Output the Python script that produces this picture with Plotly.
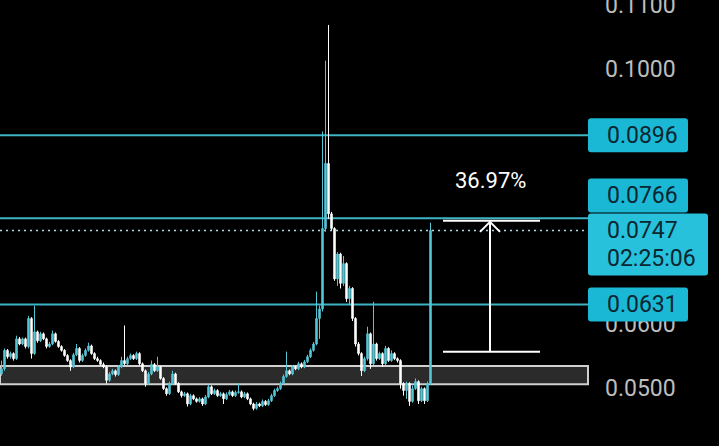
import plotly.graph_objects as go

W, H = 719, 446
PLOT_RIGHT_PX = 588

# ---- candle data (price) ----
close_ = [0.0530,0.0559,0.0549,0.0554,0.0546,0.0577,0.0569,0.0577,0.0565,0.0609,
          0.0554,0.0588,0.0574,0.0585,0.0577,0.0565,0.0569,0.0585,0.0573,0.0565,
          0.0559,0.0551,0.0543,0.0533,0.0552,0.0562,0.0543,0.0551,0.0559,0.0566,
          0.0554,0.0546,0.0543,0.0537,0.0533,0.0512,0.0522,0.0527,0.0521,0.0533,
          0.0543,0.0538,0.0546,0.0551,0.0546,0.0554,0.0538,0.0527,0.0507,0.0522,
          0.0537,0.0527,0.0533,0.0515,0.0499,0.0491,0.0507,0.0522,0.0507,0.0494,
          0.0488,0.0491,0.0475,0.0488,0.0483,0.0479,0.0483,0.0475,0.0486,0.0502,
          0.0491,0.0496,0.0488,0.0491,0.0483,0.0490,0.0494,0.0488,0.0493,0.0494,
          0.0486,0.0491,0.0483,0.0475,0.0468,0.0475,0.0472,0.0479,0.0474,0.0480,
          0.0488,0.0496,0.0499,0.0507,0.0518,0.0527,0.0522,0.0533,0.0530,0.0538,
          0.0533,0.0541,0.0549,0.0559,0.0569,0.0609,0.0624,0.0750,0.0852,0.0773,
          0.0750,0.0671,0.0710,0.0664,0.0695,0.0640,0.0656,0.0609,0.0569,0.0554,
          0.0527,0.0546,0.0585,0.0538,0.0569,0.0546,0.0554,0.0538,0.0562,0.0543,
          0.0554,0.0546,0.0543,0.0507,0.0496,0.0507,0.0479,0.0499,0.0510,0.0480,
          0.0499,0.0480,0.0507,0.0747]

open_ = [0.0522,0.0530,0.0559,0.0549,0.0554,0.0546,0.0577,0.0569,0.0577,0.0565,
         0.0609,0.0554,0.0588,0.0574,0.0585,0.0577,0.0565,0.0569,0.0585,0.0573,
         0.0565,0.0559,0.0551,0.0543,0.0533,0.0552,0.0562,0.0543,0.0551,0.0559,
         0.0566,0.0554,0.0546,0.0543,0.0537,0.0533,0.0512,0.0522,0.0527,0.0521,
         0.0533,0.0543,0.0538,0.0546,0.0551,0.0546,0.0554,0.0538,0.0527,0.0507,
         0.0522,0.0537,0.0527,0.0533,0.0515,0.0499,0.0491,0.0507,0.0522,0.0507,
         0.0494,0.0488,0.0491,0.0475,0.0488,0.0483,0.0479,0.0483,0.0475,0.0486,
         0.0502,0.0491,0.0496,0.0488,0.0491,0.0483,0.0490,0.0494,0.0488,0.0493,
         0.0494,0.0486,0.0491,0.0483,0.0475,0.0468,0.0475,0.0472,0.0479,0.0474,
         0.0480,0.0488,0.0496,0.0499,0.0507,0.0518,0.0527,0.0522,0.0533,0.0530,
         0.0538,0.0533,0.0541,0.0549,0.0559,0.0569,0.0609,0.0624,0.0750,0.0852,
         0.0773,0.0750,0.0671,0.0710,0.0664,0.0695,0.0640,0.0656,0.0609,0.0569,
         0.0554,0.0527,0.0546,0.0585,0.0538,0.0569,0.0546,0.0554,0.0538,0.0562,
         0.0543,0.0554,0.0546,0.0543,0.0507,0.0496,0.0507,0.0479,0.0499,0.0510,
         0.0480,0.0499,0.0480,0.0507]

high_ = [0.0543,0.0562,0.0561,0.0557,0.0556,0.0582,0.0580,0.0579,0.0579,0.0613,
         0.0611,0.0629,0.0590,0.0588,0.0587,0.0579,0.0572,0.0590,0.0587,0.0575,
         0.0567,0.0561,0.0553,0.0545,0.0555,0.0569,0.0564,0.0554,0.0562,0.0571,
         0.0568,0.0556,0.0549,0.0545,0.0540,0.0535,0.0525,0.0530,0.0529,0.0536,
         0.0549,0.0598,0.0549,0.0554,0.0553,0.0557,0.0556,0.0540,0.0529,0.0525,
         0.0543,0.0539,0.0549,0.0535,0.0517,0.0501,0.0510,0.0527,0.0524,0.0509,
         0.0496,0.0494,0.0493,0.0491,0.0490,0.0485,0.0486,0.0485,0.0489,0.0505,
         0.0504,0.0499,0.0498,0.0494,0.0493,0.0493,0.0497,0.0496,0.0496,0.0507,
         0.0496,0.0494,0.0493,0.0485,0.0477,0.0478,0.0477,0.0482,0.0481,0.0483,
         0.0491,0.0499,0.0502,0.0510,0.0521,0.0557,0.0529,0.0536,0.0535,0.0541,
         0.0540,0.0544,0.0552,0.0562,0.0572,0.0651,0.0629,0.0902,0.1013,0.1069,
         0.0776,0.0752,0.0713,0.0712,0.0707,0.0697,0.0660,0.0658,0.0611,0.0572,
         0.0556,0.0549,0.0596,0.0587,0.0635,0.0571,0.0557,0.0556,0.0566,0.0564,
         0.0559,0.0556,0.0548,0.0545,0.0509,0.0510,0.0509,0.0504,0.0515,0.0512,
         0.0502,0.0501,0.0510,0.0759]

low_ = [0.0519,0.0527,0.0546,0.0546,0.0543,0.0544,0.0567,0.0567,0.0562,0.0562,
        0.0546,0.0552,0.0571,0.0572,0.0575,0.0562,0.0563,0.0567,0.0571,0.0563,
        0.0557,0.0549,0.0541,0.0527,0.0531,0.0550,0.0540,0.0541,0.0549,0.0557,
        0.0552,0.0544,0.0541,0.0535,0.0531,0.0507,0.0510,0.0520,0.0518,0.0519,
        0.0531,0.0536,0.0536,0.0544,0.0544,0.0544,0.0536,0.0525,0.0502,0.0505,
        0.0520,0.0525,0.0525,0.0513,0.0497,0.0488,0.0489,0.0505,0.0505,0.0492,
        0.0485,0.0486,0.0471,0.0473,0.0481,0.0477,0.0477,0.0472,0.0473,0.0484,
        0.0489,0.0489,0.0486,0.0486,0.0475,0.0481,0.0488,0.0486,0.0486,0.0491,
        0.0484,0.0484,0.0481,0.0473,0.0465,0.0466,0.0470,0.0470,0.0472,0.0472,
        0.0478,0.0486,0.0494,0.0497,0.0505,0.0516,0.0520,0.0520,0.0528,0.0528,
        0.0531,0.0531,0.0539,0.0547,0.0557,0.0567,0.0577,0.0620,0.0745,0.0765,
        0.0747,0.0668,0.0660,0.0656,0.0660,0.0635,0.0630,0.0605,0.0565,0.0551,
        0.0519,0.0525,0.0543,0.0530,0.0536,0.0543,0.0544,0.0533,0.0536,0.0541,
        0.0541,0.0544,0.0540,0.0499,0.0488,0.0483,0.0472,0.0477,0.0497,0.0475,
        0.0478,0.0475,0.0478,0.0505]

# ---- levels / annotations data ----
levels = [0.0896, 0.0766, 0.0631]
level_labels = ["0.0896", "0.0766", "0.0631"]
current_price = 0.0747
current_label = "0.0747"
countdown = "02:25:06"
band_low, band_high = 0.0506, 0.05345
measure_low, measure_high = 0.0557, 0.0762
measure_text = "36.97%"
tick_vals = [0.04, 0.05, 0.06, 0.07, 0.08, 0.09, 0.10, 0.11]
tick_text = ["0.0400", "0.0500", "0.0600", "0.0700", "0.0800", "0.0900", "0.1000", "0.1100"]

Y_MIN, Y_MAX = 0.040909, 0.110815
N_SLOTS = 196  # candle slots across the plot width

CYAN_LINE = "#3fb3c6"
CYAN_BOX = "#1bb8d6"
CYAN_BOX2 = "#27c1dc"
UP = "#55c6d6"
DOWN = "#ffffff"
BOX_TEXT = "#0a2630"


def py(p):
    return (Y_MAX - p) / (Y_MAX - Y_MIN) * H


def pap_x(px):
    return px / W


def pap_y(px):
    return 1 - px / H


def rounded_rect(x0, y0, x1, y1, r=3):
    X = lambda v: f"{pap_x(v):.5f}"
    Y = lambda v: f"{pap_y(v):.5f}"
    return (f"M {X(x0+r)},{Y(y0)} L {X(x1-r)},{Y(y0)} Q {X(x1)},{Y(y0)} {X(x1)},{Y(y0+r)} "
            f"L {X(x1)},{Y(y1-r)} Q {X(x1)},{Y(y1)} {X(x1-r)},{Y(y1)} "
            f"L {X(x0+r)},{Y(y1)} Q {X(x0)},{Y(y1)} {X(x0)},{Y(y1-r)} "
            f"L {X(x0)},{Y(y0+r)} Q {X(x0)},{Y(y0)} {X(x0+r)},{Y(y0)} Z")


x_idx = list(range(len(close_)))

fig = go.Figure()
fig.add_trace(go.Candlestick(
    x=x_idx, open=open_, high=high_, low=low_, close=close_,
    increasing=dict(line=dict(color=UP, width=1), fillcolor=UP),
    decreasing=dict(line=dict(color=DOWN, width=1), fillcolor=DOWN),
    hoverinfo="skip", showlegend=False,
))

shapes = []
shapes.append(dict(type="rect", xref="x domain", yref="y", x0=0, x1=1,
                   y0=band_low, y1=band_high, fillcolor="#2b2b2b",
                   line=dict(color="#d0d0d0", width=2), layer="below"))
for lv in levels:
    shapes.append(dict(type="line", xref="x domain", yref="y", x0=0, x1=1,
                       y0=lv, y1=lv, line=dict(color=CYAN_LINE, width=2), layer="below"))
shapes.append(dict(type="line", xref="x domain", yref="y", x0=0, x1=1,
                   y0=current_price, y1=current_price,
                   line=dict(color="#a6dde6", width=1.5, dash="2px,4px"), layer="below"))

mx0, mx1, mxc = 443 / PLOT_RIGHT_PX, 540 / PLOT_RIGHT_PX, 490 / PLOT_RIGHT_PX
for yv in (measure_low, measure_high):
    shapes.append(dict(type="line", xref="x domain", yref="y", x0=mx0, x1=mx1,
                       y0=yv, y1=yv, line=dict(color="white", width=2), layer="above"))
shapes.append(dict(type="line", xref="x domain", yref="y", x0=mxc, x1=mxc,
                   y0=measure_low, y1=measure_high, line=dict(color="white", width=2), layer="above"))
tip = py(measure_high) + 1
shapes.append(dict(type="path", xref="paper", yref="paper",
                   path=(f"M {pap_x(480):.5f},{pap_y(tip+10):.5f} L {pap_x(490):.5f},{pap_y(tip):.5f} "
                         f"L {pap_x(500):.5f},{pap_y(tip+10):.5f}"),
                   line=dict(color="white", width=2), layer="above"))

annotations = []
box_x0, box_x1 = 588, 688
cur_top = py(current_price) - 17
for lv, lab in zip(levels, level_labels):
    if lab == "0.0766":
        b1 = cur_top - 1
        t0 = b1 - 34
    else:
        t0 = py(lv) - 17
        b1 = t0 + 34
    shapes.append(dict(type="path", xref="paper", yref="paper",
                       path=rounded_rect(box_x0, t0, box_x1, b1), fillcolor=CYAN_BOX,
                       line=dict(width=0), layer="above"))
    annotations.append(dict(xref="paper", yref="paper", x=pap_x(605), y=pap_y((t0 + b1) / 2),
                            xanchor="left", yanchor="middle", text=lab, showarrow=False,
                            font=dict(family="Roboto", size=23, color=BOX_TEXT)))
shapes.append(dict(type="path", xref="paper", yref="paper",
                   path=rounded_rect(box_x0, cur_top, 708, cur_top + 62), fillcolor=CYAN_BOX2,
                   line=dict(width=0), layer="above"))
annotations.append(dict(xref="paper", yref="paper", x=pap_x(605), y=pap_y(cur_top + 17),
                        xanchor="left", yanchor="middle", text=current_label, showarrow=False,
                        font=dict(family="Roboto", size=23, color=BOX_TEXT)))
annotations.append(dict(xref="paper", yref="paper", x=pap_x(605), y=pap_y(cur_top + 45),
                        xanchor="left", yanchor="middle", text=countdown, showarrow=False,
                        font=dict(family="Roboto", size=23, color=BOX_TEXT)))
annotations.append(dict(xref="x domain", yref="paper", x=mxc, y=pap_y(180),
                        xanchor="center", yanchor="middle", text=measure_text, showarrow=False,
                        font=dict(family="Roboto", size=22, color="white")))

fig.update_layout(
    width=W, height=H,
    margin=dict(l=0, r=0, t=0, b=0, pad=0, autoexpand=False),
    paper_bgcolor="#000000", plot_bgcolor="#000000",
    showlegend=False,
    shapes=shapes, annotations=annotations,
    xaxis=dict(domain=[0, PLOT_RIGHT_PX / W], range=[-0.5, N_SLOTS - 0.5],
               visible=False, rangeslider=dict(visible=False), fixedrange=True,
               automargin=False),
    yaxis=dict(range=[Y_MIN, Y_MAX], side="right", tickvals=tick_vals, ticktext=tick_text,
               showgrid=False, zeroline=False, showline=False, ticks="",
               ticklabelstandoff=16, ticklabeloverflow="allow", automargin=False,
               tickfont=dict(family="Roboto", size=23, color="#bdbdbd"), fixedrange=True),
)

fig.write_html("out.html", config={"displayModeBar": False},
               post_script="document.body.style.margin='0';document.body.style.background='#000';")
